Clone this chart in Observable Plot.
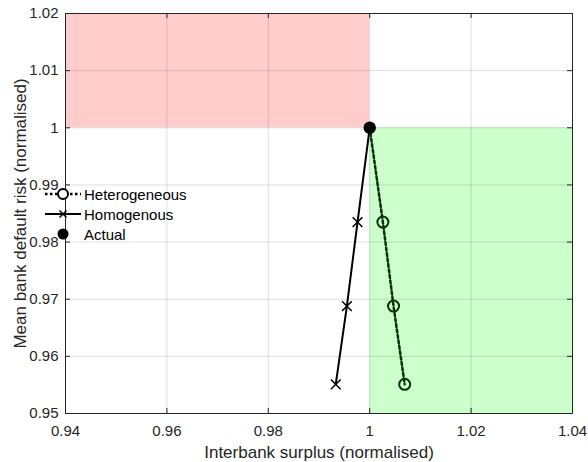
<!DOCTYPE html>
<html>
<head>
<meta charset="utf-8">
<script src="https://cdn.jsdelivr.net/npm/d3@7"></script>
<script src="https://cdn.jsdelivr.net/npm/@observablehq/plot@0.6"></script>
<style>
  body { margin: 0; background: #fff; }
  #wrap { position: relative; width: 588px; height: 462px; font-family: "Liberation Sans", Arial, sans-serif; }
  #legend { position: absolute; left: 44px; top: 184px; font-size: 15px; color: #000; }
  #legend .row { display: flex; align-items: center; height: 20px; }
  #legend svg { margin-right: 2px; }
</style>
</head>
<body>
<div id="wrap"><div id="chart"></div><div id="legend"></div></div>
<script>
// ---- data ----
const xTicks = [0.94, 0.96, 0.98, 1.00, 1.02, 1.04];
const yTicks = [0.95, 0.96, 0.97, 0.98, 0.99, 1.00, 1.01, 1.02];

const actualX = [1.0];
const actualY = [1.0];

const homoX = [1.0, 0.9976, 0.9955, 0.9933];
const homoY = [1.0, 0.9835, 0.9688, 0.9551];

const heteroX = [1.0, 1.0026, 1.0047, 1.0069];
const heteroY = [1.0, 0.9835, 0.9688, 0.9551];

const regionNames = ["worse", "better"];
const regionX1 = [0.94, 1.00];
const regionX2 = [1.00, 1.04];
const regionY1 = [1.00, 0.95];
const regionY2 = [1.02, 1.00];
const regionFill = ["#ffcccc", "#ccffcc"];

const seriesNames = ["Heterogeneous", "Homogenous", "Actual"];

// ---- tables built from the arrays ----
const regions = regionNames.map((n, i) => ({ n, x1: regionX1[i], x2: regionX2[i], y1: regionY1[i], y2: regionY2[i], fill: regionFill[i] }));
const homo = homoX.map((x, i) => ({ x, y: homoY[i] }));
const hetero = heteroX.map((x, i) => ({ x, y: heteroY[i] }));
const actual = actualX.map((x, i) => ({ x, y: actualY[i] }));

const fmt = d => String(+d.toFixed(2));
const axisColor = "#262626";
const heteroColor = "#063406";

const W = 588, H = 462, mL = 65, mR = 16, mT = 13, mB = 49;
const plotW = W - mL - mR, plotH = H - mT - mB, tickLen = 5;

const chart = Plot.plot({
  width: W,
  height: H,
  marginLeft: mL,
  marginRight: mR,
  marginTop: mT,
  marginBottom: mB,
  style: { fontFamily: "'Liberation Sans', Arial, sans-serif", fontSize: "15px", color: axisColor, background: "#fff" },
  x: { domain: [0.94, 1.04] },
  y: { domain: [0.95, 1.02] },
  marks: [
    Plot.rect(regions, { x1: "x1", x2: "x2", y1: "y1", y2: "y2", fill: "fill" }),
    Plot.gridX(xTicks, { stroke: "#000", strokeOpacity: 0.13 }),
    Plot.gridY(yTicks, { stroke: "#000", strokeOpacity: 0.13 }),
    // inward ticks on all four sides
    Plot.tickX(xTicks, { stroke: axisColor, insetTop: plotH - tickLen }),
    Plot.tickX(xTicks, { stroke: axisColor, insetBottom: plotH - tickLen }),
    Plot.tickY(yTicks, { stroke: axisColor, insetRight: plotW - tickLen }),
    Plot.tickY(yTicks, { stroke: axisColor, insetLeft: plotW - tickLen }),
    Plot.line(homo, { x: "x", y: "y", stroke: "#000", strokeWidth: 2 }),
    Plot.dot(homo.slice(1), { x: "x", y: "y", symbol: "times", r: 4.5, stroke: "#000", strokeWidth: 1.5 }),
    Plot.line(hetero, { x: "x", y: "y", stroke: heteroColor, strokeWidth: 2.5, strokeDasharray: "3,2.5" }),
    Plot.dot(hetero.slice(1), { x: "x", y: "y", r: 5.5, stroke: heteroColor, strokeWidth: 2, fill: "none" }),
    Plot.dot(actual, { x: "x", y: "y", r: 5.5, fill: "#000", stroke: "#000" }),
    Plot.axisX(xTicks, { anchor: "bottom", tickSize: 0, tickPadding: 12, tickFormat: fmt, fontSize: 15, label: null }),
    Plot.axisX({ anchor: "bottom", ticks: [], tickSize: 0, label: "Interbank surplus (normalised)", labelAnchor: "center", labelArrow: "none", labelOffset: 44, fontSize: 17 }),
    Plot.axisY(yTicks, { anchor: "left", tickSize: 0, tickPadding: 7, tickFormat: fmt, fontSize: 15, label: null }),
    Plot.axisY({ anchor: "left", ticks: [], tickSize: 0, label: "Mean bank default risk (normalised)", labelAnchor: "center", labelArrow: "none", labelOffset: 52, fontSize: 17 }),
    Plot.frame({ stroke: axisColor, strokeWidth: 1 })
  ]
});
document.getElementById("chart").appendChild(chart);

// ---- legend ----
const legend = document.getElementById("legend");
const samples = [
  `<svg width="38" height="14"><line x1="1" y1="7" x2="37" y2="7" stroke="#000" stroke-width="2.5" stroke-dasharray="2.5,2.5"/><circle cx="19" cy="7" r="5" fill="#fff" stroke="#000" stroke-width="2"/></svg>`,
  `<svg width="38" height="14"><line x1="1" y1="7" x2="37" y2="7" stroke="#000" stroke-width="2"/><path d="M15.5,3.5L22.5,10.5M15.5,10.5L22.5,3.5" stroke="#000" stroke-width="1.5"/></svg>`,
  `<svg width="38" height="14"><circle cx="19" cy="7" r="5.5" fill="#000"/></svg>`
];
seriesNames.forEach((name, i) => {
  const row = document.createElement("div");
  row.className = "row";
  row.innerHTML = samples[i] + `<span>${name}</span>`;
  legend.appendChild(row);
});
</script>
</body>
</html>
